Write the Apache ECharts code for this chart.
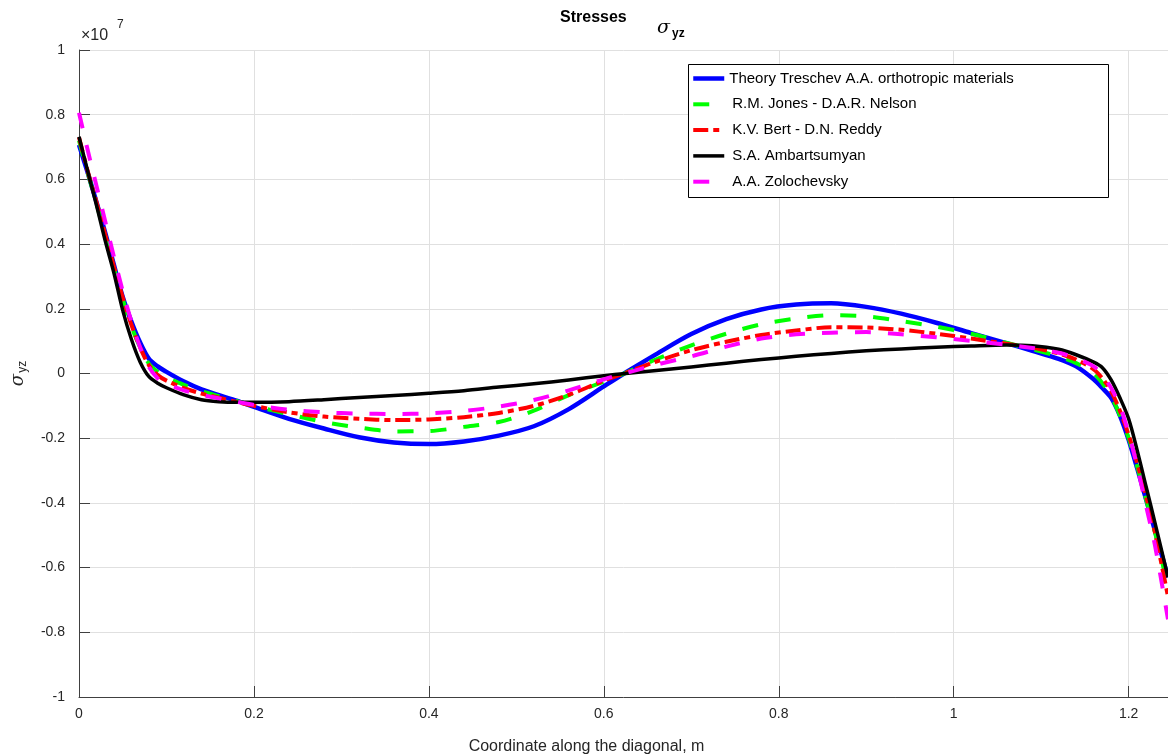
<!DOCTYPE html>
<html>
<head>
<meta charset="utf-8">
<script src="https://cdn.jsdelivr.net/npm/echarts@6/dist/echarts.min.js"></script>
<style>
html,body{margin:0;padding:0;background:#fff;}
#chart{width:1168px;height:755px;}
</style>
</head>
<body>
<div id="chart"></div>
<script>
// Coordinate along the diagonal, m
var xs = [0, 0.01, 0.02, 0.03, 0.04, 0.05, 0.06, 0.07, 0.08, 0.09, 0.10, 0.12, 0.14, 0.16, 0.18, 0.20,
  0.24, 0.28, 0.32, 0.36, 0.40, 0.44, 0.48, 0.52, 0.56, 0.60, 0.625, 0.66, 0.70, 0.74, 0.78, 0.82,
  0.86, 0.90, 0.94, 0.98, 1.02, 1.06, 1.09, 1.12, 1.14, 1.16, 1.17, 1.18, 1.19, 1.20, 1.21, 1.22, 1.23, 1.245];

// sigma_yz values, in units of 10^7
var treschev = [0.707, 0.62, 0.53, 0.435, 0.335, 0.237, 0.16, 0.095, 0.045, 0.022, 0.005, -0.025, -0.049, -0.067, -0.084, -0.103,
  -0.140, -0.170, -0.197, -0.213, -0.218, -0.210, -0.192, -0.163, -0.110, -0.040, 0.003, 0.06, 0.122, 0.168, 0.198, 0.213,
  0.217, 0.206, 0.185, 0.157, 0.125, 0.094, 0.07, 0.045, 0.022, -0.018, -0.045, -0.075, -0.13, -0.205, -0.295, -0.39, -0.485, -0.63];

var jonesNelson = [0.72, 0.62, 0.525, 0.425, 0.325, 0.23, 0.145, 0.08, 0.03, 0.005, -0.012, -0.035, -0.055, -0.07, -0.085, -0.10,
  -0.126, -0.15, -0.167, -0.179, -0.178, -0.165, -0.15, -0.115, -0.067, -0.025, 0.002, 0.044, 0.087, 0.123, 0.152, 0.17,
  0.18, 0.177, 0.162, 0.145, 0.123, 0.095, 0.075, 0.052, 0.032, 0.0, -0.03, -0.07, -0.13, -0.20, -0.29, -0.39, -0.49, -0.66];

var bertReddy = [0.73, 0.625, 0.53, 0.43, 0.33, 0.235, 0.15, 0.08, 0.025, -0.005, -0.022, -0.045, -0.062, -0.075, -0.088, -0.10,
  -0.12, -0.133, -0.14, -0.144, -0.142, -0.135, -0.122, -0.10, -0.066, -0.022, 0.002, 0.037, 0.072, 0.098, 0.119, 0.133,
  0.143, 0.142, 0.135, 0.123, 0.108, 0.092, 0.08, 0.062, 0.043, 0.013, -0.015, -0.055, -0.115, -0.19, -0.28, -0.38, -0.49, -0.69];

var ambartsumyan = [0.732, 0.625, 0.52, 0.41, 0.31, 0.195, 0.105, 0.035, -0.01, -0.03, -0.044, -0.066, -0.081, -0.087, -0.089, -0.089,
  -0.087, -0.081, -0.074, -0.068, -0.061, -0.053, -0.042, -0.032, -0.02, -0.007, 0.0, 0.009, 0.02, 0.032, 0.043, 0.053,
  0.062, 0.07, 0.076, 0.081, 0.085, 0.088, 0.086, 0.075, 0.058, 0.035, 0.018, -0.02, -0.075, -0.14, -0.24, -0.35, -0.46, -0.63];

var zolochevsky = [0.806, 0.69, 0.58, 0.47, 0.36, 0.255, 0.16, 0.08, 0.02, -0.015, -0.032, -0.052, -0.066, -0.077, -0.087, -0.097,
  -0.112, -0.12, -0.124, -0.125, -0.123, -0.116, -0.102, -0.082, -0.052, -0.018, 0.001, 0.027, 0.053, 0.083, 0.108, 0.121,
  0.126, 0.128, 0.121, 0.112, 0.101, 0.089, 0.079, 0.064, 0.047, 0.022, -0.005, -0.045, -0.10, -0.185, -0.29, -0.41, -0.53, -0.76];

var seriesNames = ['Theory Treschev A.A. orthotropic materials', 'R.M. Jones - D.A.R. Nelson',
  'K.V. Bert - D.N. Reddy', 'S.A. Ambartsumyan', 'A.A. Zolochevsky'];
var xTicks = [0, 0.2, 0.4, 0.6, 0.8, 1, 1.2];
var yTicks = [-1, -0.8, -0.6, -0.4, -0.2, 0, 0.2, 0.4, 0.6, 0.8, 1];

function pairs(ys) { return xs.map(function (x, i) { return [x, ys[i]]; }); }

var FONT = "'Liberation Sans', Arial, Helvetica, sans-serif";
var SERIF = "'DejaVu Serif', 'Liberation Serif', serif";
var styles = [
  { color: '#0000ff', width: 4.5, type: 'solid' },
  { color: '#00ff00', width: 4, type: [16, 17] },
  { color: '#ff0000', width: 4, type: [15, 5, 6, 5] },
  { color: '#000000', width: 3.5, type: 'solid' },
  { color: '#ff00ff', width: 4, type: [16, 17] }
];
var allData = [treschev, jonesNelson, bertReddy, ambartsumyan, zolochevsky];

function onTick(v, ticks) {
  var r = Math.round(v * 10) / 10;
  return (Math.abs(v - r) < 1e-6 && ticks.indexOf(r) >= 0) ? String(r) : '';
}

var chart = echarts.init(document.getElementById('chart'), null, { renderer: 'canvas' });
chart.setOption({
  backgroundColor: '#ffffff',
  animation: false,
  textStyle: { fontFamily: FONT },
  title: {
    text: 'Stresses',
    left: 560, top: 10, padding: 0,
    textStyle: { fontFamily: FONT, fontWeight: 'bold', fontSize: 16, color: '#000' }
  },
  grid: { left: 79, top: 50, right: 0, bottom: 58, containLabel: false, outerBoundsMode: 'none' },
  legend: {
    orient: 'vertical',
    left: 691, top: 71,
    padding: 0,
    itemWidth: 31, itemHeight: 14, itemGap: 10.8,
    z: 5,
    data: seriesNames,
    itemStyle: { opacity: 0 },
    lineStyle: { width: 'inherit', type: 'inherit' },
    formatter: function (name) {
      return name === seriesNames[0] ? '{n|' + name + '}' : '{p|}{n|' + name + '}';
    },
    textStyle: {
      fontFamily: FONT, fontSize: 15, color: '#000',
      rich: { n: { fontFamily: FONT, fontSize: 15, color: '#000' }, p: { width: 3 } }
    }
  },
  xAxis: {
    type: 'value',
    min: 0, max: 1.245, interval: 0.2,
    name: 'Coordinate along the diagonal, m',
    nameLocation: 'middle', nameGap: 42,
    nameTextStyle: { fontFamily: FONT, fontSize: 16, color: '#262626', padding: [0, 74, 0, 0] },
    axisLine: { show: true, onZero: false, lineStyle: { color: '#404040', width: 1 } },
    axisTick: { show: true, inside: true, length: 11, lineStyle: { color: '#404040' } },
    axisLabel: {
      margin: 10, fontSize: 14, color: '#262626', fontFamily: FONT, showMaxLabel: false,
      formatter: function (v) { return onTick(v, xTicks); }
    },
    splitLine: { show: true, lineStyle: { color: '#e0e0e0', width: 1 } }
  },
  yAxis: {
    type: 'value',
    min: -1, max: 1, interval: 0.2,
    name: '{s|σ}{sub|yz}',
    nameLocation: 'middle', nameRotate: 90, nameGap: 50,
    nameTextStyle: {
      rich: {
        s: { fontFamily: SERIF, fontStyle: 'italic', fontSize: 18, color: '#262626' },
        sub: { fontFamily: FONT, fontSize: 12, color: '#262626', padding: [10, 0, 0, 1] }
      }
    },
    axisLine: { show: true, onZero: false, lineStyle: { color: '#404040', width: 1 } },
    axisTick: { show: true, inside: true, length: 11, lineStyle: { color: '#404040' } },
    axisLabel: {
      margin: 14, fontSize: 14, color: '#262626', fontFamily: FONT,
      formatter: function (v) { return onTick(v, yTicks); }
    },
    splitLine: { show: true, lineStyle: { color: '#e0e0e0', width: 1 } }
  },
  graphic: [
    { type: 'rect', z: 4, shape: { x: 688.5, y: 64.5, width: 420, height: 133 },
      style: { fill: '#ffffff', stroke: '#000000', lineWidth: 1 } },
    { type: 'text', z: 6, left: 657, top: 19,
      style: { text: 'σ', fontFamily: SERIF, fontStyle: 'italic', fontSize: 19, fill: '#000' } },
    { type: 'text', z: 6, left: 672, top: 28,
      style: { text: 'yz', fontFamily: FONT, fontWeight: 'bold', fontSize: 12, fill: '#000' } },
    { type: 'text', z: 6, left: 81, top: 28,
      style: { text: '×10', fontFamily: FONT, fontSize: 16, fill: '#262626' } },
    { type: 'text', z: 6, left: 117, top: 19,
      style: { text: '7', fontFamily: FONT, fontSize: 12, fill: '#262626' } }
  ],
  series: allData.map(function (ys, i) {
    return {
      name: seriesNames[i],
      type: 'line',
      data: pairs(ys),
      showSymbol: false,
      symbol: 'none',
      smooth: 0.3,
      clip: true,
      z: 2 + i * 0.1,
      itemStyle: { color: styles[i].color },
      lineStyle: { color: styles[i].color, width: styles[i].width, type: styles[i].type, cap: 'butt', join: 'round' }
    };
  })
});
</script>
</body>
</html>
